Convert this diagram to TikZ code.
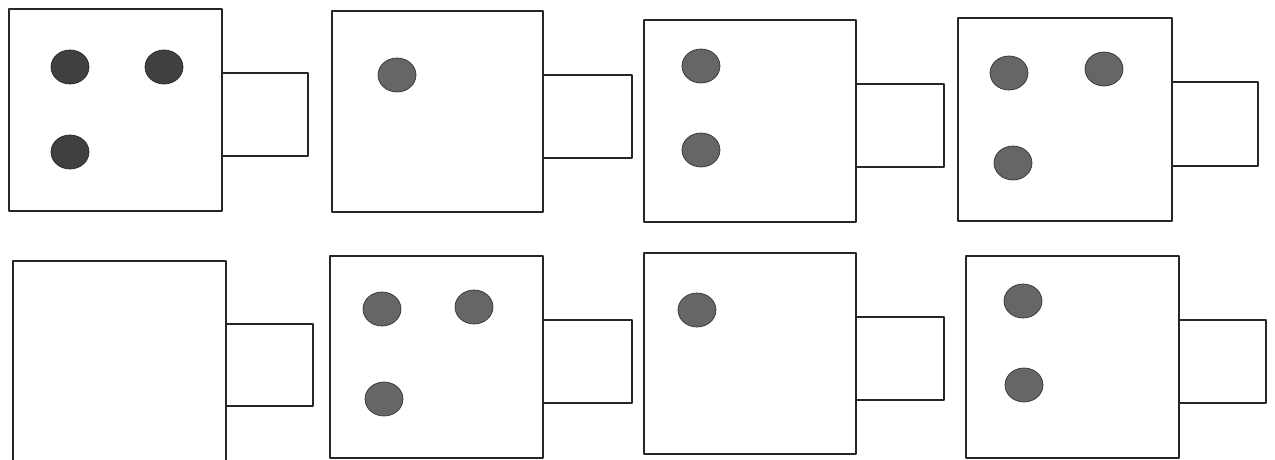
\documentclass[tikz,border=0pt]{standalone}
\begin{document}
\begin{tikzpicture}[x=1pt,y=-1pt,
  frame/.style={draw=black!85,line width=1.3pt,line join=round},
  tabbox/.style={draw=black!85,line width=1.2pt,line join=round},
  dot/.style={fill=black!60,draw=black!80,line width=0.7pt},
  darkdot/.style={fill=black!75,draw=black!85,line width=0.7pt}]
\useasboundingbox[fill=white] (0,0) rectangle (1275,459);
% Row 1
\draw[tabbox] (222,73) rectangle (308,156);
\draw[frame] (9,9) rectangle (222,211);
\draw[darkdot] (70,67) ellipse (19 and 17);
\draw[darkdot] (164,67) ellipse (19 and 17);
\draw[darkdot] (70,152) ellipse (19 and 17);

\draw[tabbox] (543,75) rectangle (632,158);
\draw[frame] (332,11) rectangle (543,212);
\draw[dot] (397,75) ellipse (19 and 17);

\draw[tabbox] (856,84) rectangle (944,167);
\draw[frame] (644,20) rectangle (856,222);
\draw[dot] (701,66) ellipse (19 and 17);
\draw[dot] (701,150) ellipse (19 and 17);

\draw[tabbox] (1172,82) rectangle (1258,166);
\draw[frame] (958,18) rectangle (1172,221);
\draw[dot] (1009,73) ellipse (19 and 17);
\draw[dot] (1104,69) ellipse (19 and 17);
\draw[dot] (1013,163) ellipse (19 and 17);

% Row 2
\draw[tabbox] (226,324) rectangle (313,406);
\draw[frame] (13,470) -- (13,261) -- (226,261) -- (226,470);

\draw[tabbox] (543,320) rectangle (632,403);
\draw[frame] (330,256) rectangle (543,458);
\draw[dot] (382,309) ellipse (19 and 17);
\draw[dot] (474,307) ellipse (19 and 17);
\draw[dot] (384,399) ellipse (19 and 17);

\draw[tabbox] (856,317) rectangle (944,400);
\draw[frame] (644,253) rectangle (856,454);
\draw[dot] (697,310) ellipse (19 and 17);

\draw[tabbox] (1179,320) rectangle (1266,403);
\draw[frame] (966,256) rectangle (1179,458);
\draw[dot] (1023,301) ellipse (19 and 17);
\draw[dot] (1024,385) ellipse (19 and 17);
\end{tikzpicture}
\end{document}
